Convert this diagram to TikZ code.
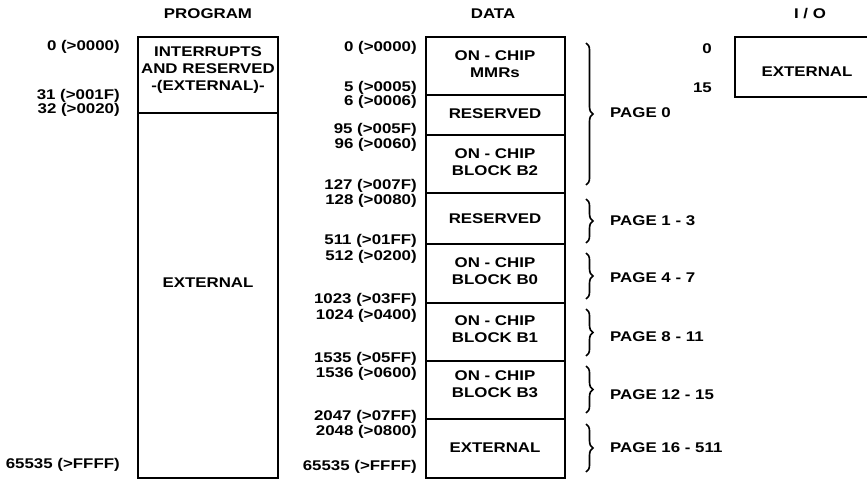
\documentclass[tikz,border=0pt]{standalone}
\usepackage{fontspec}
\setmainfont[FakeStretch=1.2]{Liberation Sans}
\usetikzlibrary{decorations.pathreplacing}

\begin{document}
\begin{tikzpicture}[x=0.03cm, y=-0.03cm,
  every node/.style={font=\bfseries\fontsize{12}{14.5}\selectfont, inner sep=0pt},
  addr/.style={anchor=east},
  pagelbl/.style={anchor=west},
  membox/.style={line width=1.1pt},
  pagebrace/.style={decorate, decoration={brace, amplitude=6pt}, line width=1.4pt}]
  \useasboundingbox (0,0) rectangle (867,482);
  \clip (0,0) rectangle (867,482);

  % Titles
  \node (tprog) at (208,14) {PROGRAM};
  \node (tdata) at (493,14) {DATA};
  \node (tio) at (810,14) {I / O};

  % Program memory
  \draw[membox] (138,37) rectangle (278,478);
  \draw[membox] (138,113) -- (278,113);
  \node[align=center] (pint) at (208,70) {INTERRUPTS\\AND RESERVED\\-(EXTERNAL)-};
  \node (pext) at (208,283) {EXTERNAL};
  \node[addr] (pa0) at (120,47) {0 (>0000)};
  \node[addr] (pa1) at (120,96) {31 (>001F)};
  \node[addr] (pa2) at (120,110) {32 (>0020)};
  \node[addr] (pa3) at (120,465) {65535 (>FFFF)};

  % Data memory
  \draw[membox] (426,37) rectangle (565,478);
  \foreach \y in {95,135,193,244,303,361,419}
    \draw[membox] (426,\y) -- (565,\y);
  \node[align=center] (dmmr) at (495,64) {ON - CHIP\\MMRs};
  \node (dres1) at (495,114) {RESERVED};
  \node[align=center] (db2) at (495,162) {ON - CHIP\\BLOCK B2};
  \node (dres2) at (495,219) {RESERVED};
  \node[align=center] (db0) at (495,271) {ON - CHIP\\BLOCK B0};
  \node[align=center] (db1) at (495,329) {ON - CHIP\\BLOCK B1};
  \node[align=center] (db3) at (495,384) {ON - CHIP\\BLOCK B3};
  \node (dext) at (495,448) {EXTERNAL};
  \foreach \y/\t [count=\i] in {48/0 (>0000), 88/5 (>0005), 102/6 (>0006),
      130/95 (>005F), 145/96 (>0060), 186/127 (>007F), 201/128 (>0080),
      241/511 (>01FF), 257/512 (>0200), 300/1023 (>03FF), 316/1024 (>0400),
      359/1535 (>05FF), 374/1536 (>0600), 417/2047 (>07FF), 432/2048 (>0800),
      467/65535 (>FFFF)}
    \node[addr] (da\i) at (417,\y) {\t};

  % Pages
  \coordinate (b0s) at (586,43);  \coordinate (b0e) at (586,185);
  \coordinate (b1s) at (586,199); \coordinate (b1e) at (586,243);
  \coordinate (b2s) at (586,253); \coordinate (b2e) at (586,299);
  \coordinate (b3s) at (586,309); \coordinate (b3e) at (586,356);
  \coordinate (b4s) at (586,366); \coordinate (b4e) at (586,413);
  \coordinate (b5s) at (586,424); \coordinate (b5e) at (586,472);
  \foreach \i in {0,...,5}
    \draw[pagebrace] (b\i s) -- (b\i e);
  \node[pagelbl] (pg0) at (610,113) {PAGE 0};
  \node[pagelbl] (pg1) at (610,221) {PAGE 1 - 3};
  \node[pagelbl] (pg2) at (610,278) {PAGE 4 - 7};
  \node[pagelbl] (pg3) at (610,337) {PAGE 8 - 11};
  \node[pagelbl] (pg4) at (610,395) {PAGE 12 - 15};
  \node[pagelbl] (pg5) at (610,448) {PAGE 16 - 511};

  % I/O space
  \draw[membox] (735,37) rectangle (890,97);
  \node (iext) at (807,72) {EXTERNAL};
  \node[addr] (ia0) at (712,49) {0};
  \node[addr] (ia1) at (712,88) {15};
\end{tikzpicture}
\end{document}
